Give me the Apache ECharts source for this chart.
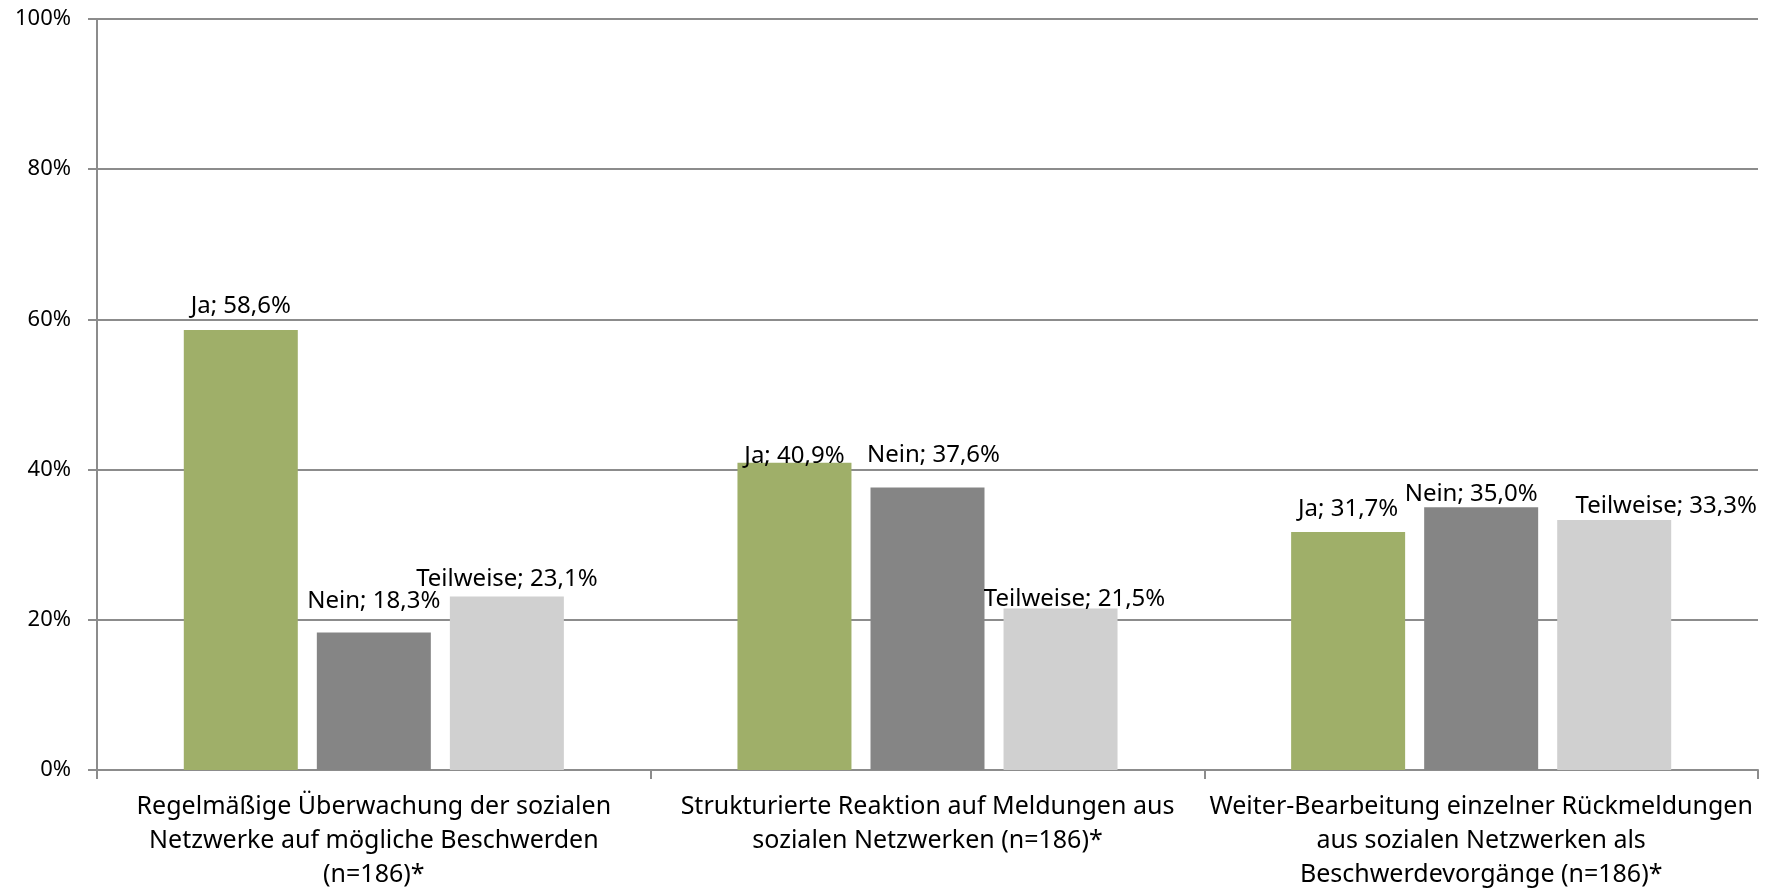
<!DOCTYPE html>
<html>
<head>
<meta charset="utf-8">
<script src="https://cdn.jsdelivr.net/npm/echarts@6/dist/echarts.min.js"></script>
<style>
  html, body { margin: 0; padding: 0; background: #fff; }
  #main { width: 1773px; height: 892px; }
</style>
</head>
<body>
<div id="main"></div>
<script>
  // Kategorien (Zeilenumbrüche wie im Original)
  var categories = [
    'Regelmäßige Überwachung der sozialen\nNetzwerke auf mögliche Beschwerden\n(n=186)*',
    'Strukturierte Reaktion auf Meldungen aus\nsozialen Netzwerken (n=186)*',
    'Weiter-Bearbeitung einzelner Rückmeldungen\naus sozialen Netzwerken als\nBeschwerdevorgänge (n=186)*'
  ];
  var seriesNames = ['Ja', 'Nein', 'Teilweise'];
  var jaValues = [58.6, 40.9, 31.7];
  var neinValues = [18.3, 37.6, 35.0];
  var teilweiseValues = [23.1, 21.5, 33.3];
  var yTicks = [0, 20, 40, 60, 80, 100];

  var colors = ['#9faf69', '#858585', '#d0d0d0'];
  // Verschiebung der Beschriftungen wie im Original [dx, dy]
  var labelNudge = [
    [[0, -8], [0, 9], [0, -7]],
    [[0, -15], [6, -16], [-10, 3]],
    [[0, -1], [14, 7], [52, 2]]
  ];

  function fmt(v) {
    return v.toFixed(1).replace('.', ',');
  }

  var allValues = [jaValues, neinValues, teilweiseValues];
  var series = [];
  for (var s = 0; s < seriesNames.length; s++) {
    var items = [];
    for (var i = 0; i < allValues[s].length; i++) {
      items.push({
        value: allValues[s][i],
        label: { offset: labelNudge[s][i] }
      });
    }
    series.push({
      name: seriesNames[s],
      type: 'bar',
      data: items,
      barWidth: 114,
      barGap: '16.7%',
      itemStyle: { color: colors[s] },
      label: {
        show: true,
        position: 'top',
        distance: 4,
        color: '#000',
        fontSize: 24,
        fontFamily: 'Noto Sans',
        formatter: function (p) {
          return p.seriesName + '; ' + fmt(p.value) + '%';
        }
      }
    });
  }

  var chart = echarts.init(document.getElementById('main'));
  chart.setOption({
    animation: false,
    grid: { left: 97, right: 15, top: 19, bottom: 122, containLabel: false },
    xAxis: {
      type: 'category',
      data: categories,
      axisLine: { lineStyle: { color: '#8c8c8c', width: 2 } },
      axisTick: { show: true, length: 9, lineStyle: { color: '#8c8c8c', width: 2 } },
      axisLabel: {
        color: '#000',
        fontSize: 25,
        fontFamily: 'Noto Sans',
        lineHeight: 34,
        margin: 20,
        interval: 0
      }
    },
    yAxis: {
      type: 'value',
      min: yTicks[0],
      max: yTicks[yTicks.length - 1],
      interval: 20,
      axisLine: { show: true, lineStyle: { color: '#8c8c8c', width: 2 } },
      axisTick: { show: true, length: 9, lineStyle: { color: '#8c8c8c', width: 2 } },
      splitLine: { lineStyle: { color: '#8c8c8c', width: 2 } },
      axisLabel: {
        color: '#000',
        fontSize: 22,
        fontFamily: 'Noto Sans',
        margin: 26,
        formatter: '{value}%'
      }
    },
    series: series
  });
</script>
</body>
</html>
